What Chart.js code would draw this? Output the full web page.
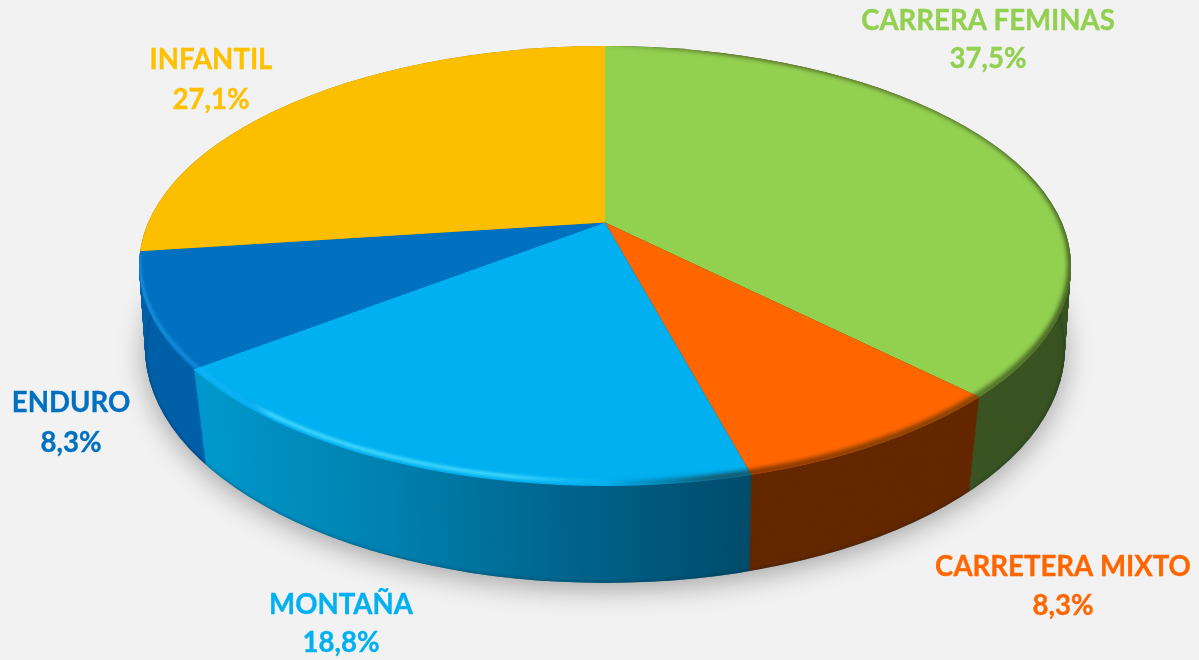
<!DOCTYPE html>
<html><head><meta charset="utf-8">
<script src="https://cdn.jsdelivr.net/npm/chart.js@4/dist/chart.umd.js"></script>
<style>html,body{margin:0;padding:0;background:#f2f2f2;overflow:hidden}canvas{display:block}</style>
</head><body><canvas id="c" width="1199" height="660"></canvas>
<script>
const categories = ['CARRERA FEMINAS','CARRETERA MIXTO','MONTAÑA','ENDURO','INFANTIL'];
const shares = [37.5,8.3,18.8,8.3,27.1];
const topColors = ['#92D050','#FF6600','#00B0F0','#0070C0','#FBBF00'];
const labelColors = ['#92D050','#FF6600','#00B0F0','#0070C0','#FFC000'];
const sideColors = ['#3B5423','#642800',null,'#0060A8','#9A7600'];
const labelCenters = [[988,21,59],[1063,567,606],[341,605,643],[71,403,443],[211,60,100]];

const APEX_X=605, APEX_Y=222.5, SQUASH=0.466, ZOOM=2.2;
const TOP={cy:266,rx:466,ry:220}, BASE={cy:348,rx:460,ry:235}, APEX_DROP=99, SHRINK=0.02, LAYERS=100;

function ellipsePath(ctx,e,dy=0){ctx.beginPath();ctx.ellipse(APEX_X,e.cy+dy,e.rx,e.ry,0,0,Math.PI*2);}
function mix(t){return {cy:TOP.cy+(BASE.cy-TOP.cy)*t,rx:TOP.rx+(BASE.rx-TOP.rx)*t,ry:TOP.ry+(BASE.ry-TOP.ry)*t};}
function project(ctx,arc,t){
  const m=1-SHRINK*t;
  ctx.translate(APEX_X,APEX_Y+APEX_DROP*t);
  ctx.scale(ZOOM*m,ZOOM*SQUASH*m);
  ctx.translate(-arc.x,-arc.y);
}
function softStroke(ctx,e,dy,width,blur,style){
  ctx.save();
  ellipsePath(ctx,e);ctx.clip();
  ctx.filter='blur('+blur+'px)';
  ctx.lineWidth=width;ctx.strokeStyle=style;
  ellipsePath(ctx,e,dy);ctx.stroke();
  ctx.restore();
}
const pie3d={
  id:'pie3d',
  beforeDatasetsDraw(chart){
    const ctx=chart.ctx, arcs=chart.getDatasetMeta(0).data;
    // ground shadow
    ctx.save();
    ctx.shadowColor='rgba(0,0,0,0.33)';ctx.shadowBlur=28;ctx.shadowOffsetY=6;ctx.fillStyle='#888';
    ellipsePath(ctx,BASE);ctx.fill();
    ctx.restore();
    // side wall, extruded from the library's own arcs
    const cx=arcs[0].x;
    const g=ctx.createLinearGradient(cx+(200-APEX_X)/ZOOM,0,cx+(745-APEX_X)/ZOOM,0);
    g.addColorStop(0,'#0098CC');g.addColorStop(.35,'#0080AE');g.addColorStop(.7,'#00628A');g.addColorStop(1,'#004C6C');
    for(let l=LAYERS;l>=0;l--){
      const t=l/LAYERS;
      ctx.save();
      ellipsePath(ctx,mix(t));ctx.clip();
      arcs.forEach((arc,i)=>{
        ctx.save();project(ctx,arc,t);
        const saved=arc.options,o=Object.create(saved);
        o.backgroundColor=sideColors[i]||g;
        arc.options=o;arc.draw(ctx);arc.options=saved;
        ctx.restore();
      });
      ctx.restore();
    }
    // dark seam at the wall foot
    ctx.save();
    ellipsePath(ctx,BASE);ctx.clip();
    ctx.filter='blur(1px)';ctx.lineWidth=4;ctx.strokeStyle='rgba(0,30,50,0.2)';
    ellipsePath(ctx,BASE,0);ctx.stroke();
    ctx.restore();
    // top face: the chart's own draw, clipped and projected
    ctx.save();
    ellipsePath(ctx,TOP);ctx.clip();
    project(ctx,arcs[0],0);
  },
  afterDatasetsDraw(chart){
    const ctx=chart.ctx;
    ctx.restore();
    // dark shade under the rim and bevel
    const dark=ctx.createLinearGradient(TOP.rx*-1+APEX_X,0,TOP.rx+APEX_X,0);
    dark.addColorStop(0,'rgba(0,0,0,0)');dark.addColorStop(.5,'rgba(0,0,0,0)');
    dark.addColorStop(.62,'rgba(40,15,0,0.55)');dark.addColorStop(.9,'rgba(30,40,10,0.55)');dark.addColorStop(1,'rgba(30,40,10,0.65)');
    softStroke(ctx,TOP,-2,7,2.2,dark);
    const lite=ctx.createLinearGradient(APEX_X-TOP.rx,0,APEX_X+TOP.rx,0);
    lite.addColorStop(0,'rgba(60,190,255,0.45)');lite.addColorStop(.12,'rgba(40,170,255,0.4)');
    lite.addColorStop(.14,'rgba(90,230,255,0.8)');lite.addColorStop(.4,'rgba(90,230,255,0.75)');
    lite.addColorStop(.5,'rgba(90,230,255,0)');lite.addColorStop(1,'rgba(90,230,255,0)');
    ctx.save();ctx.beginPath();ctx.rect(0,255,1199,405);ctx.clip();
    softStroke(ctx,TOP,-5,3.5,1.6,lite);
    ctx.restore();
    // labels
    ctx.save();
    ctx.font='700 27.6px Lato';ctx.textAlign='center';ctx.textBaseline='middle';ctx.lineWidth=0.35;ctx.lineJoin='round';
    categories.forEach((name,i)=>{
      const [x,y1,y2]=labelCenters[i];
      const pct=shares[i].toFixed(1).replace('.',',')+'%';
      ctx.fillStyle=ctx.strokeStyle=labelColors[i];
      ctx.fillText(name,x,y1);ctx.strokeText(name,x,y1);
      ctx.fillText(pct,x,y2);ctx.strokeText(pct,x,y2);
    });
    ctx.restore();
  }
};
new Chart(document.getElementById('c'),{
  type:'pie',
  data:{labels:categories,datasets:[{data:shares,backgroundColor:topColors,borderWidth:0,clip:false}]},
  options:{responsive:false,animation:false,layout:{padding:0},
    plugins:{legend:{display:false},tooltip:{enabled:false}}},
  plugins:[pie3d]
});
</script></body></html>
